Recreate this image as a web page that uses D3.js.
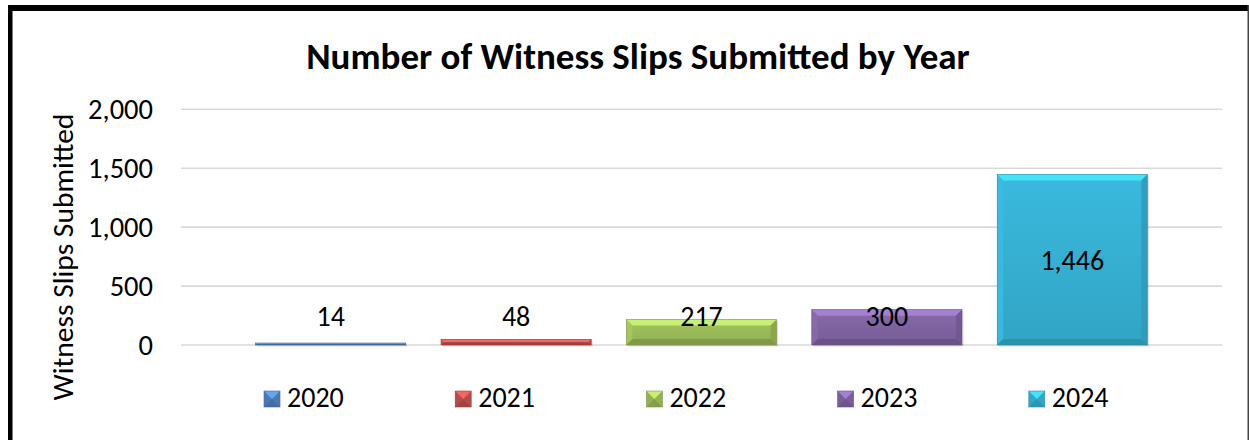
<!DOCTYPE html>
<html>
<head>
<meta charset="utf-8">
<script src="https://cdn.jsdelivr.net/npm/d3@7"></script>
<style>
  html, body { margin: 0; padding: 0; background: #fff; }
  svg { display: block; }
  text { font-family: Carlito, Lato, "Noto Sans", sans-serif; fill: #000; }
</style>
</head>
<body>
<svg id="chart" width="1249" height="440"></svg>
<script>
// ---- data ----
const years = ["2020", "2021", "2022", "2023", "2024"];
const slips = [14, 48, 217, 300, 1446];
const yTicks = [0, 500, 1000, 1500, 2000];
const barColors = ["#4F81BD", "#C0504D", "#9BBB59", "#8064A2", "#36B0D3"];
const titleText = "Number of Witness Slips Submitted by Year";
const yAxisTitle = "Witness Slips Submitted";

const W = 1249, H = 440;
const svg = d3.select("#chart");
const fmt = d3.format(",");

// frame
svg.append("rect").attr("x", 0).attr("y", 0).attr("width", W).attr("height", H).attr("fill", "#fff");
svg.append("rect").attr("x", 8).attr("y", 5).attr("width", W - 8).attr("height", 6).attr("fill", "#000");
svg.append("rect").attr("x", 8).attr("y", 5).attr("width", 4.5).attr("height", H - 5).attr("fill", "#000");
svg.append("rect").attr("x", 1247.5).attr("y", 5).attr("width", 1.5).attr("height", H - 5).attr("fill", "#444");

// scales
const y = d3.scaleLinear().domain([0, 2000]).range([345, 109.3]);
const x = d3.scaleBand().domain(years).range([238, 1165]).paddingInner(0.19).paddingOuter(0.095);
const plotLeft = 181, plotRight = 1222;

// title
svg.append("text")
  .attr("x", 638).attr("y", 69)
  .attr("text-anchor", "middle")
  .style("font-size", "37px").style("font-weight", "bold")
  .text(titleText);

// gridlines
svg.append("g").selectAll("line").data(yTicks).join("line")
  .attr("x1", plotLeft).attr("x2", plotRight)
  .attr("y1", d => y(d)).attr("y2", d => y(d))
  .attr("stroke", "#d9d9d9").attr("stroke-width", 1.6);

// y axis labels
const yAxis = d3.axisLeft(y).tickValues(yTicks).tickFormat(fmt).tickSize(0).tickPadding(0);
const gy = svg.append("g").attr("transform", "translate(153,0)").call(yAxis);
gy.select(".domain").remove();
gy.selectAll("text").style("font-size", "28.5px").attr("fill", "#000")
  .attr("font-family", null);

// y axis title
svg.append("text")
  .attr("transform", `translate(73,${(y(0) + y(2000)) / 2 + 30}) rotate(-90)`)
  .attr("text-anchor", "middle")
  .style("font-size", "29.5px")
  .text(yAxisTitle);

// bars with bevel
const defs = svg.append("defs");
years.forEach((yr, i) => {
  const c = d3.color(barColors[i]);
  const g = defs.append("linearGradient").attr("id", "grad" + i)
    .attr("x1", 0).attr("y1", 0).attr("x2", 0).attr("y2", 1);
  g.append("stop").attr("offset", "0%").attr("stop-color", c.brighter(0.15));
  g.append("stop").attr("offset", "100%").attr("stop-color", c.darker(0.2));
});

const data = years.map((yr, i) => ({ yr, v: slips[i], i }));
const bars = svg.append("g").selectAll("g").data(data).join("g");

bars.each(function (d) {
  const g = d3.select(this);
  const x0 = x(d.yr), w = x.bandwidth();
  const y0 = y(d.v), y1 = y(0);
  const h = Math.max(y1 - y0, 2);
  const top = y1 - h;
  const b = Math.min(6, h / 2, w / 2);
  const c = d3.color(barColors[d.i]);
  // shadow
  g.append("rect").attr("x", x0 + 1.5).attr("y", top + 1.5).attr("width", w).attr("height", h)
    .attr("fill", "rgba(0,0,0,0.12)");
  // base
  g.append("rect").attr("x", x0).attr("y", top).attr("width", w).attr("height", h)
    .attr("fill", `url(#grad${d.i})`);
  // top bevel (light)
  g.append("path")
    .attr("d", `M${x0},${top}L${x0 + w},${top}L${x0 + w - b},${top + b}L${x0 + b},${top + b}Z`)
    .attr("fill", c.brighter(0.8)).attr("opacity", 0.85);
  // left bevel
  g.append("path")
    .attr("d", `M${x0},${top}L${x0 + b},${top + b}L${x0 + b},${top + h - b}L${x0},${top + h}Z`)
    .attr("fill", c.brighter(0.2)).attr("opacity", 0.8);
  // right bevel
  g.append("path")
    .attr("d", `M${x0 + w},${top}L${x0 + w},${top + h}L${x0 + w - b},${top + h - b}L${x0 + w - b},${top + b}Z`)
    .attr("fill", c.darker(0.35)).attr("opacity", 0.9);
  // bottom bevel
  g.append("path")
    .attr("d", `M${x0},${top + h}L${x0 + b},${top + h - b}L${x0 + w - b},${top + h - b}L${x0 + w},${top + h}Z`)
    .attr("fill", c.darker(0.6)).attr("opacity", 0.9);
  // outline
  g.append("rect").attr("x", x0).attr("y", top).attr("width", w).attr("height", h)
    .attr("fill", "none").attr("stroke", c.darker(0.5)).attr("stroke-width", 0.6);
});

// data labels
svg.append("g").selectAll("text").data(data).join("text")
  .attr("x", d => x(d.yr) + x.bandwidth() / 2)
  .attr("y", d => Math.min(y(d.v / 2), y(0) - 29))
  .attr("dy", "0.35em")
  .attr("text-anchor", "middle")
  .style("font-size", "28px")
  .text(d => fmt(d.v));

// legend
const legendX0 = 264, legendStep = 191.2, legendY = 391;
const lg = svg.append("g").selectAll("g").data(data).join("g")
  .attr("transform", (d, i) => `translate(${legendX0 + i * legendStep},${legendY})`);
lg.each(function (d) {
  const g = d3.select(this);
  const c = d3.color(barColors[d.i]);
  const s = 16;
  g.append("rect").attr("width", s).attr("height", s).attr("fill", c.darker(0.15));
  g.append("path").attr("d", `M0,0L${s},0L${s / 2},${s / 2}Z`).attr("fill", c.brighter(0.7));
  g.append("path").attr("d", `M0,${s}L${s / 2},${s / 2}L${s},${s}Z`).attr("fill", c.darker(0.45));
  g.append("rect").attr("width", s).attr("height", s).attr("fill", "none")
    .attr("stroke", c.darker(0.6)).attr("stroke-width", 0.6);
});
lg.append("text")
  .attr("x", 23).attr("y", 15.5)
  .style("font-size", "28px")
  .text(d => d.yr);
</script>
</body>
</html>
